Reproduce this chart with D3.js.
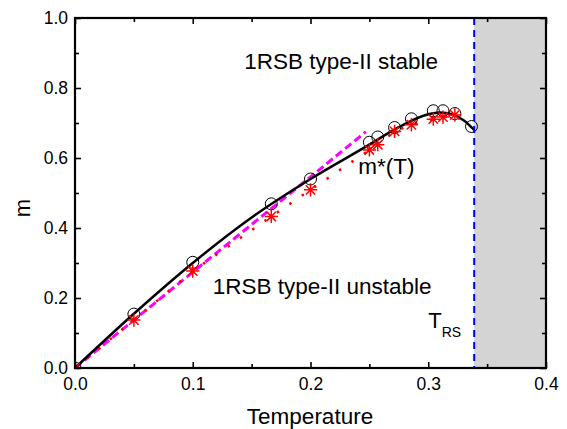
<!DOCTYPE html>
<html>
<head>
<meta charset="utf-8">
<script src="https://cdn.jsdelivr.net/npm/d3@7"></script>
<style>
  html, body { margin: 0; padding: 0; background: #fff; }
  svg { display: block; font-family: 'Liberation Sans', Arial, sans-serif; }
</style>
</head>
<body>
<svg id="chart"></svg>
<script>
// circles: simulated m*(T)
const circleT = [0, 0.05, 0.1, 0.1667, 0.2, 0.25, 0.2571, 0.2714, 0.2857, 0.3043, 0.3125, 0.3226, 0.3367];
const circleM = [0, 0.154, 0.302, 0.469, 0.54, 0.645, 0.66, 0.687, 0.712, 0.735, 0.735, 0.727, 0.69];

// asterisks, joined by the red dotted line
const starT = [0, 0.05, 0.1, 0.1667, 0.2, 0.25, 0.2571, 0.2714, 0.2857, 0.3043, 0.3125, 0.3226];
const starM = [0, 0.137, 0.277, 0.433, 0.509, 0.623, 0.638, 0.676, 0.695, 0.711, 0.717, 0.723];

// solid black curve
const curveT = [0, 0.05, 0.1, 0.15, 0.2, 0.25, 0.275, 0.3, 0.31, 0.32, 0.33, 0.339];
const curveM = [0, 0.155, 0.3, 0.43, 0.54, 0.638, 0.688, 0.725, 0.73, 0.725, 0.708, 0.68];

// magenta dashed line
const dashT = [0, 0.05, 0.1, 0.15, 0.2, 0.247];
const dashM = [0, 0.137, 0.274, 0.41, 0.546, 0.675];

const tRS = 0.339;
const xTicks = [0, 0.1, 0.2, 0.3, 0.4];
const yTicks = [0, 0.2, 0.4, 0.6, 0.8, 1.0];
const xMinor = [0.05, 0.15, 0.25, 0.35];
const yMinor = [0.1, 0.3, 0.5, 0.7, 0.9];

const W = 567, H = 429;
const margin = { top: 18, right: 21, bottom: 61, left: 75 };
const width = W - margin.left - margin.right;
const height = H - margin.top - margin.bottom;

const svg = d3.select('#chart').attr('width', W).attr('height', H);
const chart = svg.append('g').attr('transform', `translate(${margin.left},${margin.top})`);

const x = d3.scaleLinear().domain([0, 0.4]).range([0, width]);
const y = d3.scaleLinear().domain([0, 1]).range([height, 0]);

chart.append('clipPath').attr('id', 'clip')
  .append('rect').attr('width', width).attr('height', height);

// shaded RS region
chart.append('rect')
  .attr('x', x(tRS)).attr('y', 0)
  .attr('width', x(0.4) - x(tRS)).attr('height', height)
  .attr('fill', '#d4d4d4');

const plot = chart.append('g').attr('clip-path', 'url(#clip)');

const zip = (a, b) => a.map((v, i) => [v, b[i]]);
const line = d3.line().x((d) => x(d[0])).y((d) => y(d[1]));

plot.append('path')
  .datum(zip(dashT, dashM))
  .attr('d', line)
  .attr('fill', 'none').attr('stroke', '#ff00ff')
  .attr('stroke-width', 3).attr('stroke-dasharray', '8,4');

plot.append('path')
  .datum(zip(starT, starM))
  .attr('d', line)
  .attr('fill', 'none').attr('stroke', '#ff0000')
  .attr('stroke-width', 2.5).attr('stroke-dasharray', '2.5,12.5');

plot.append('path')
  .datum(zip(curveT, curveM))
  .attr('d', line.curve(d3.curveMonotoneX))
  .attr('fill', 'none').attr('stroke', '#000')
  .attr('stroke-width', 2.5);

plot.append('g').selectAll('circle')
  .data(zip(circleT, circleM))
  .join('circle')
  .attr('cx', (d) => x(d[0])).attr('cy', (d) => y(d[1]))
  .attr('r', 6).attr('fill', 'none').attr('stroke', '#000').attr('stroke-width', 1);

const star = d3.symbol().type({
  draw(ctx, size) {
    const r = Math.sqrt(size);
    for (let k = 0; k < 4; k++) {
      const a = (k * Math.PI) / 4;
      ctx.moveTo(-r * Math.cos(a), -r * Math.sin(a));
      ctx.lineTo(r * Math.cos(a), r * Math.sin(a));
    }
  },
}).size(44);

plot.append('g').selectAll('path')
  .data(zip(starT, starM))
  .join('path')
  .attr('transform', (d) => `translate(${x(d[0])},${y(d[1])})`)
  .attr('d', star)
  .attr('fill', 'none').attr('stroke', '#ff0000').attr('stroke-width', 1.5);

// T_RS boundary
chart.append('line')
  .attr('x1', x(tRS)).attr('x2', x(tRS))
  .attr('y1', 0).attr('y2', height)
  .attr('stroke', '#0000ff').attr('stroke-width', 2)
  .attr('stroke-dasharray', '7,5');

// axes
const fmt = d3.format('.1f');
const styleAxis = (g) => {
  g.selectAll('.domain').remove();
  g.selectAll('.tick line').attr('stroke', '#000').attr('stroke-width', 1.6);
  g.selectAll('text').attr('font-size', 17.5).attr('fill', '#000')
    .attr('font-family', "'Liberation Sans', Arial, sans-serif");
};

chart.append('g').attr('transform', `translate(0,${height})`)
  .call(d3.axisBottom(x).tickValues(xTicks).tickFormat(fmt).tickSizeInner(-6).tickSizeOuter(0).tickPadding(10))
  .call(styleAxis);
chart.append('g').attr('transform', `translate(0,${height})`)
  .call(d3.axisBottom(x).tickValues(xMinor).tickFormat('').tickSizeInner(-4).tickSizeOuter(0))
  .call(styleAxis);
chart.append('g')
  .call(d3.axisTop(x).tickValues(xTicks).tickFormat('').tickSizeInner(-6).tickSizeOuter(0))
  .call(styleAxis);
chart.append('g')
  .call(d3.axisTop(x).tickValues(xMinor).tickFormat('').tickSizeInner(-4).tickSizeOuter(0))
  .call(styleAxis);

chart.append('g')
  .call(d3.axisLeft(y).tickValues(yTicks).tickFormat(fmt).tickSizeInner(-6).tickSizeOuter(0).tickPadding(7))
  .call(styleAxis);
chart.append('g')
  .call(d3.axisLeft(y).tickValues(yMinor).tickFormat('').tickSizeInner(-4).tickSizeOuter(0))
  .call(styleAxis);
chart.append('g').attr('transform', `translate(${width},0)`)
  .call(d3.axisRight(y).tickValues(yTicks).tickFormat('').tickSizeInner(-6).tickSizeOuter(0))
  .call(styleAxis);
chart.append('g').attr('transform', `translate(${width},0)`)
  .call(d3.axisRight(y).tickValues(yMinor).tickFormat('').tickSizeInner(-4).tickSizeOuter(0))
  .call(styleAxis);

// frame
chart.append('rect')
  .attr('width', width).attr('height', height)
  .attr('fill', 'none').attr('stroke', '#000').attr('stroke-width', 2.2);

// titles
svg.append('text')
  .attr('x', 310).attr('y', 424)
  .attr('text-anchor', 'middle').attr('font-size', 22.5)
  .text('Temperature');
svg.append('text')
  .attr('transform', `translate(30,${margin.top + height / 2 + 15}) rotate(-90)`)
  .attr('text-anchor', 'middle').attr('font-size', 22)
  .text('m');

// annotations
const note = (tx, ty, txt, size) => chart.append('text')
  .attr('x', tx).attr('y', ty).attr('font-size', size).text(txt);
note(x(0.226), y(0.855), '1RSB type-II stable', 22.5).attr('text-anchor', 'middle');
note(x(0.117), y(0.212), '1RSB type-II unstable', 22.5);
note(x(0.2405), y(0.554), 'm*(T)', 22.5);

const trs = chart.append('text').attr('x', x(0.300)).attr('y', y(0.113)).attr('font-size', 22);
trs.append('tspan').text('T');
trs.append('tspan').attr('dy', 9).attr('font-size', 14).text('RS');
</script>
</body>
</html>
